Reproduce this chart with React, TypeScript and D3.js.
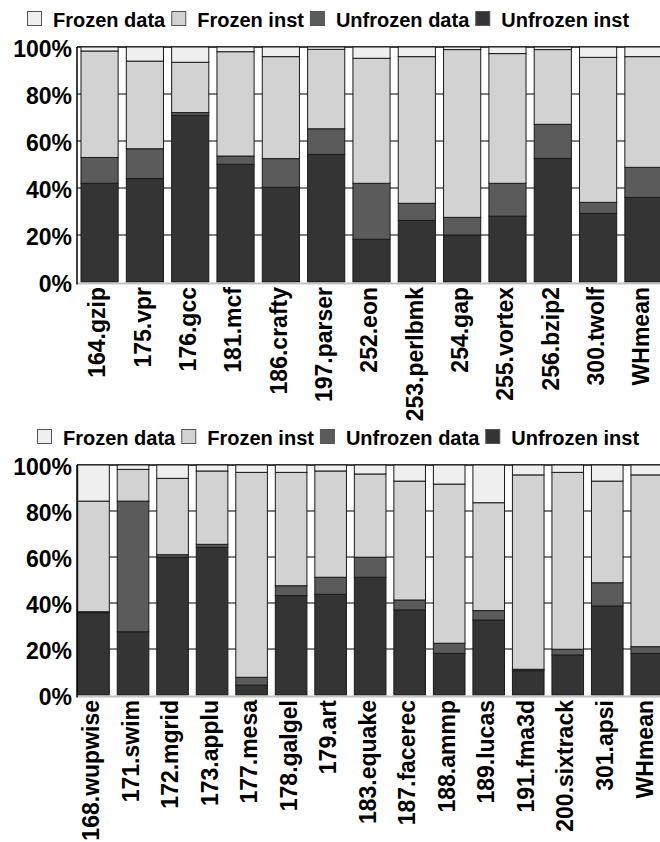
import { useEffect, useRef } from 'react'
import * as d3 from 'd3'

// stack order, bottom to top
const seriesNames = ['Unfrozen inst', 'Unfrozen data', 'Frozen inst', 'Frozen data']
const legendNames = ['Frozen data', 'Frozen inst', 'Unfrozen data', 'Unfrozen inst']
const seriesColors: Record<string, string> = {
  'Frozen data': '#efefef',
  'Frozen inst': '#d2d2d2',
  'Unfrozen data': '#5b5b5b',
  'Unfrozen inst': '#343434',
}
const yTicks = [0, 20, 40, 60, 80, 100]

// SPECint (top panel), percent of each bar
const intBenchmarks = ['164.gzip', '175.vpr', '176.gcc', '181.mcf', '186.crafty', '197.parser', '252.eon',
  '253.perlbmk', '254.gap', '255.vortex', '256.bzip2', '300.twolf', 'WHmean']
const intUnfrozenInst = [42.0, 44.0, 70.9, 50.1, 40.3, 54.3, 18.2, 26.2, 20.0, 28.0, 52.6, 29.2, 36.0]
const intUnfrozenData = [11.0, 12.7, 1.2, 3.5, 12.2, 10.9, 23.8, 7.3, 7.5, 14.0, 14.5, 4.7, 12.8]
const intFrozenInst = [45.3, 37.3, 21.4, 44.4, 43.4, 33.8, 53.2, 62.4, 71.4, 55.2, 31.8, 61.7, 47.1]
const intFrozenData = [1.7, 6.0, 6.5, 2.0, 4.1, 1.0, 4.8, 4.1, 1.1, 2.8, 1.1, 4.4, 4.1]

// SPECfp (bottom panel)
const fpBenchmarks = ['168.wupwise', '171.swim', '172.mgrid', '173.applu', '177.mesa', '178.galgel', '179.art',
  '183.equake', '187.facerec', '188.ammp', '189.lucas', '191.fma3d', '200.sixtrack', '301.apsi', 'WHmean']
const fpUnfrozenInst = [35.8, 27.5, 59.9, 64.2, 4.3, 43.2, 43.8, 51.2, 37.0, 18.1, 32.6, 10.6, 17.4, 38.7, 18.1]
const fpUnfrozenData = [0.4, 56.8, 1.1, 1.3, 3.4, 4.3, 7.4, 8.7, 4.3, 4.4, 4.1, 0.6, 2.5, 10.1, 2.9]
const fpFrozenInst = [48.1, 13.8, 33.2, 31.9, 89.1, 49.3, 46.2, 36.2, 51.7, 69.2, 46.9, 84.5, 76.9, 44.2, 74.7]
const fpFrozenData = [15.7, 1.9, 5.8, 2.6, 3.2, 3.2, 2.6, 3.9, 7.0, 8.3, 16.4, 4.3, 3.2, 7.0, 4.3]

const FONT = '"Liberation Sans", Arial, Helvetica, sans-serif'

type Panel = {
  categories: string[]
  values: number[][]
  legendX: number
  legendY: number
  top: number
  bottom: number
  left: number
  right: number
  padInner: number
  padOuter: number
}

const panels: Panel[] = [
  {
    categories: intBenchmarks,
    values: [intUnfrozenInst, intUnfrozenData, intFrozenInst, intFrozenData],
    legendX: 27, legendY: 11, top: 47, bottom: 282, left: 77, right: 666,
    padInner: 0.18, padOuter: 0.088,
  },
  {
    categories: fpBenchmarks,
    values: [fpUnfrozenInst, fpUnfrozenData, fpFrozenInst, fpFrozenData],
    legendX: 37, legendY: 429, top: 465, bottom: 695, left: 77, right: 663.3,
    padInner: 0.2, padOuter: 0.018,
  },
]

function drawPanel(svg: d3.Selection<SVGSVGElement, unknown, null, undefined>, p: Panel) {
  const g = svg.append('g')
  const x = d3.scaleBand<string>().domain(p.categories).range([p.left, p.right])
    .paddingInner(p.padInner).paddingOuter(p.padOuter)
  const y = d3.scaleLinear().domain([0, 100]).range([p.bottom, p.top])

  // grid lines behind the bars
  g.selectAll('line.grid')
    .data(yTicks.filter(t => t > 0))
    .join('line')
    .attr('x1', p.left).attr('x2', p.right)
    .attr('y1', d => y(d)).attr('y2', d => y(d))
    .attr('stroke', '#000').attr('stroke-width', d => (d === 100 ? 1.5 : 1))

  const rows = p.categories.map((name, i) => {
    const r: any = { name }
    seriesNames.forEach((s, k) => { r[s] = p.values[k][i] })
    return r
  })
  const layers = d3.stack<any>().keys(seriesNames)(rows)

  layers.forEach(layer => {
    g.append('g')
      .selectAll('rect')
      .data(layer)
      .join('rect')
      .attr('x', d => x(d.data.name)!)
      .attr('width', x.bandwidth())
      .attr('y', d => y(d[1]))
      .attr('height', d => y(d[0]) - y(d[1]))
      .attr('fill', seriesColors[layer.key])
      .attr('stroke', '#1a1a1a')
      .attr('stroke-width', 1)
  })

  // axes
  g.append('line')
    .attr('x1', p.left).attr('x2', p.right)
    .attr('y1', p.bottom + 1.5).attr('y2', p.bottom + 1.5)
    .attr('stroke', '#c4c4c4').attr('stroke-width', 2)
  g.append('line')
    .attr('x1', p.left).attr('x2', p.left)
    .attr('y1', p.top).attr('y2', p.bottom + 2.5)
    .attr('stroke', '#000').attr('stroke-width', 1.5)

  g.selectAll('text.ytick')
    .data(yTicks)
    .join('text')
    .attr('x', p.left - 5)
    .attr('y', d => y(d))
    .attr('dy', '0.42em')
    .attr('text-anchor', 'end')
    .attr('font-family', FONT)
    .attr('font-weight', 'bold')
    .attr('font-size', 23)
    .attr('fill', '#000')
    .text(d => `${d}%`)

  g.selectAll('text.xlab')
    .data(p.categories)
    .join('text')
    .attr('transform', d => `translate(${x(d)! + x.bandwidth() / 2},${p.bottom + 5}) rotate(-90)`)
    .attr('dy', '0.25em')
    .attr('text-anchor', 'end')
    .attr('font-family', FONT)
    .attr('font-weight', 'bold')
    .attr('font-size', 23)
    .attr('fill', '#000')
    .text(d => d)

  // legend
  const leg = g.append('g')
  let cx = p.legendX
  legendNames.forEach(name => {
    leg.append('rect')
      .attr('x', cx + 0.5).attr('y', p.legendY + 0.5)
      .attr('width', 14).attr('height', 14)
      .attr('fill', seriesColors[name])
      .attr('stroke', '#555').attr('stroke-width', 1)
    const t = leg.append('text')
      .attr('x', cx + 26)
      .attr('y', p.legendY + 15.5)
      .attr('font-family', FONT)
      .attr('font-weight', 'bold')
      .attr('font-size', 20)
      .attr('fill', '#000')
      .text(name)
    const w = (t.node() as SVGTextElement).getComputedTextLength()
    cx += 26 + w + 6
  })
}

export default function App() {
  const ref = useRef<SVGSVGElement>(null)

  useEffect(() => {
    if (!ref.current) return
    const svg = d3.select(ref.current)
    svg.selectAll('*').remove()
    panels.forEach(p => drawPanel(svg, p))
  }, [])

  return (
    <svg
      ref={ref}
      width={660}
      height={842}
      style={{ position: 'absolute', left: 0, top: 0, background: '#fff', display: 'block' }}
    />
  )
}
